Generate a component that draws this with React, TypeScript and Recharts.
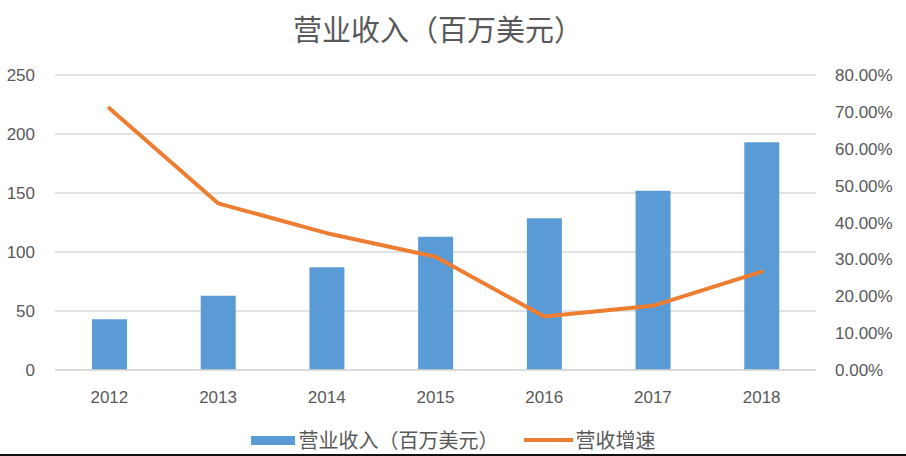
import React from 'react';
import { ComposedChart, Bar, Line, XAxis, YAxis, CartesianGrid, Legend } from 'recharts';

const years = ['2012', '2013', '2014', '2015', '2016', '2017', '2018'];
const revenue = [43, 63, 87, 113, 128.5, 152, 193];
const growth = [71.0, 45.2, 37.1, 30.7, 14.5, 17.4, 26.7];
const leftTicks = [0, 50, 100, 150, 200, 250];
const rightTicks = [0, 10, 20, 30, 40, 50, 60, 70, 80];

const title = '营业收入（百万美元）';
const revenueName = '营业收入（百万美元）';
const growthName = '营收增速';

const data = years.map((y, i) => ({ year: y, revenue: revenue[i], growth: growth[i] }));

const BLUE = '#5B9BD5';
const ORANGE = '#ED7D31';
const TEXT = '#595959';
const GRID = '#D9D9D9';
const NUM_FONT = '"Liberation Sans", Arial, sans-serif';
const CJK_FONT = '"Noto Sans CJK SC", "Noto Sans", sans-serif';

const LegendContent = () => (
  <div
    style={{
      display: 'flex',
      justifyContent: 'center',
      alignItems: 'center',
      height: 28,
      fontFamily: CJK_FONT,
      fontSize: 20,
      color: TEXT,
    }}
  >
    <div style={{ width: 44, height: 9, background: BLUE, marginRight: 4 }} />
    <span style={{ lineHeight: '28px' }}>{revenueName}</span>
    <div style={{ width: 49, height: 4, background: ORANGE, marginLeft: 25, marginRight: 3 }} />
    <span style={{ lineHeight: '28px' }}>{growthName}</span>
  </div>
);

export default function App() {
  return (
    <div style={{ position: 'absolute', left: 0, top: 0, width: 906, height: 456, background: '#fff', overflow: 'hidden' }}>
      <div
        style={{
          position: 'absolute',
          left: 0,
          width: 876,
          top: 13,
          textAlign: 'center',
          fontFamily: CJK_FONT,
          fontSize: 29,
          lineHeight: '30px',
          color: TEXT,
        }}
      >
        {title}
      </div>
      <ComposedChart
        width={906}
        height={456}
        data={data}
        margin={{ top: 75, right: 0, bottom: 2, left: 0 }}
      >
        <CartesianGrid yAxisId="left" vertical={false} stroke={GRID} strokeWidth={1.5} />
        <XAxis
          dataKey="year"
          height={56}
          tickSize={0}
          tickMargin={21}
          axisLine={{ stroke: GRID, strokeWidth: 1.5 }}
          tickLine={false}
          tick={{ fill: TEXT, fontSize: 17, fontFamily: NUM_FONT }}
        />
        <YAxis
          yAxisId="left"
          orientation="left"
          width={55}
          domain={[0, 250]}
          ticks={leftTicks}
          tickSize={0}
          tickMargin={20}
          axisLine={false}
          tickLine={false}
          tick={{ fill: TEXT, fontSize: 17, fontFamily: NUM_FONT }}
        />
        <YAxis
          yAxisId="right"
          orientation="right"
          width={90}
          domain={[0, 80]}
          ticks={rightTicks}
          tickSize={0}
          tickMargin={19}
          axisLine={false}
          tickLine={false}
          tickFormatter={(v: number) => v.toFixed(2) + '%'}
          tick={{ fill: TEXT, fontSize: 17, fontFamily: NUM_FONT, textAnchor: 'start' }}
        />
        <Legend verticalAlign="bottom" height={28} content={<LegendContent />} />
        <Bar
          yAxisId="left"
          dataKey="revenue"
          name={revenueName}
          fill={BLUE}
          barSize={35}
          isAnimationActive={false}
        />
        <Line
          yAxisId="right"
          dataKey="growth"
          name={growthName}
          type="linear"
          stroke={ORANGE}
          strokeWidth={4}
          strokeLinecap="round"
          strokeLinejoin="round"
          dot={false}
          activeDot={false}
          isAnimationActive={false}
        />
      </ComposedChart>
      <div style={{ position: 'absolute', left: 0, bottom: 0, width: 906, height: 2, background: '#111' }} />
    </div>
  );
}
